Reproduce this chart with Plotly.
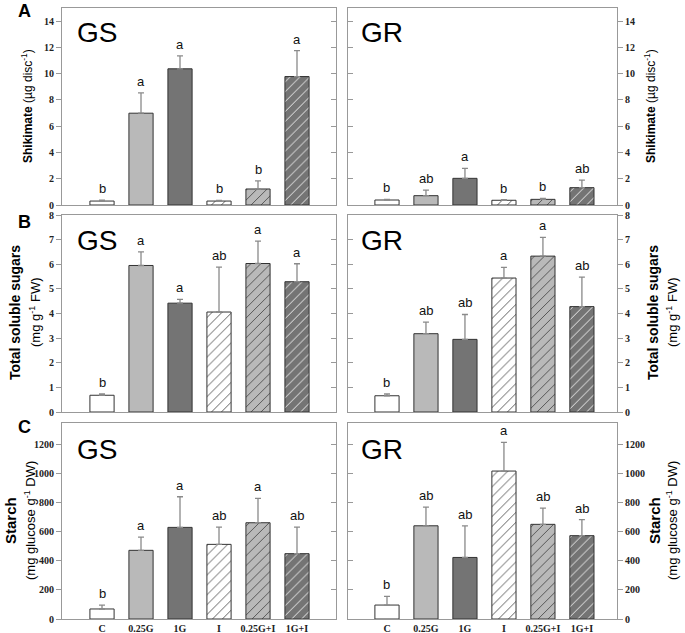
import plotly.graph_objects as go

W, H = 685, 633

categories = ["C", "0.25G", "1G", "I", "0.25G+I", "1G+I"]

shik_GS = [0.30, 6.99, 10.37, 0.30, 1.22, 9.78]
shik_GS_err = [0.06, 1.55, 0.99, 0.05, 0.61, 1.98]
shik_GS_let = ["b", "a", "a", "b", "b", "a"]
shik_GR = [0.38, 0.71, 2.03, 0.36, 0.43, 1.32]
shik_GR_err = [0.05, 0.43, 0.76, 0.05, 0.07, 0.58]
shik_GR_let = ["b", "ab", "a", "b", "b", "ab"]

sug_GS = [0.68, 5.95, 4.42, 4.06, 6.03, 5.29]
sug_GS_err = [0.05, 0.55, 0.15, 1.82, 0.91, 0.73]
sug_GS_let = ["b", "a", "a", "ab", "a", "a"]
sug_GR = [0.66, 3.18, 2.95, 5.44, 6.33, 4.28]
sug_GR_err = [0.07, 0.47, 1.01, 0.43, 0.76, 1.20]
sug_GR_let = ["b", "ab", "ab", "a", "a", "ab"]

starch_GS = [69, 473, 631, 514, 663, 450]
starch_GS_err = [27, 91, 211, 119, 168, 183]
starch_GS_let = ["b", "a", "a", "ab", "a", "ab"]
starch_GR = [96, 642, 424, 1019, 652, 574]
starch_GR_err = [60, 129, 218, 197, 112, 110]
starch_GR_let = ["b", "ab", "ab", "a", "ab", "ab"]

bar_colors = ["#ffffff", "#b9b9b9", "#747474", "#ffffff", "#b9b9b9", "#747474"]
bar_patterns = ["", "", "", "/", "/", "/"]

def px_x(p):
    return p / W

def px_y(p):
    return 1 - p / H

col_dom = [[px_x(62), px_x(336)], [px_x(348), px_x(617)]]
col_rng = [[-1.026, 6.0], [-1.0, 5.9]]
row_dom = [[px_y(205), px_y(8)], [px_y(412), px_y(215)], [px_y(619), px_y(423)]]
row_rng = [[0, 15], [0, 8], [0, 1350]]
row_dtick = [2, 1, 200]

panels = [
    [(shik_GS, shik_GS_err, shik_GS_let), (shik_GR, shik_GR_err, shik_GR_let)],
    [(sug_GS, sug_GS_err, sug_GS_let), (sug_GR, sug_GR_err, sug_GR_let)],
    [(starch_GS, starch_GS_err, starch_GS_let), (starch_GR, starch_GR_err, starch_GR_let)],
]

fig = go.Figure()
layout = {}
annotations = []
frame = "#999999"
tickfont = dict(family="Liberation Serif", size=10, color="#222", weight="bold")

n = 0
ov = 6
for r in range(3):
    for c in range(2):
        n += 1
        vals, errs, lets = panels[r][c]
        xa = "x" if n == 1 else f"x{n}"
        ya = "y" if n == 1 else f"y{n}"
        fig.add_trace(go.Bar(
            x=categories, y=vals, xaxis=xa, yaxis=ya, width=0.62,
            marker=dict(color=bar_colors, line=dict(color="#333333", width=1),
                        pattern=dict(shape=bar_patterns, fillmode="overlay",
                                     fgcolor="#222222", fgopacity=1, size=7, solidity=0.12)),
            error_y=dict(type="data", array=errs, arrayminus=[0]*6, symmetric=False,
                         color="#8a8a8a", thickness=1.3, width=3),
            showlegend=False, hoverinfo="skip",
        ))
        side = "left" if c == 0 else "right"
        layout[f"xaxis{n}"] = dict(
            domain=col_dom[c], range=col_rng[c], anchor=ya, type="category",
            showline=True, mirror=True, linecolor=frame, linewidth=1,
            ticks="", showgrid=False, zeroline=False, automargin=False,
            showticklabels=(r == 2), tickfont=tickfont, ticklen=0,
        )
        layout[f"yaxis{n}"] = dict(
            domain=row_dom[r], range=row_rng[r], anchor=xa, side=side,
            showline=True, mirror=True, linecolor=frame, linewidth=1,
            ticks="outside", ticklen=5, tickcolor=frame, dtick=row_dtick[r],
            showgrid=False, zeroline=False, tickfont=tickfont, automargin=False,
        )
        ov += 1
        oside = "right" if c == 0 else "left"
        layout[f"yaxis{ov}"] = dict(
            overlaying=ya, anchor=xa, side=oside, range=row_rng[r], dtick=row_dtick[r],
            ticks="inside", ticklen=5, tickcolor=frame, showticklabels=False,
            showline=False, showgrid=False, zeroline=False, automargin=False,
        )
        fig.add_trace(go.Scatter(x=[categories[0]], y=[row_rng[r][0]], xaxis=xa,
                                 yaxis=f"y{ov}", mode="markers", marker=dict(opacity=0),
                                 showlegend=False, hoverinfo="skip"))
        for i, cat in enumerate(categories):
            annotations.append(dict(
                x=cat, y=vals[i] + errs[i], xref=xa, yref=ya, text=lets[i],
                showarrow=False, yanchor="bottom", yshift=2,
                font=dict(family="Arial", size=13, color="#111"),
            ))
        annotations.append(dict(
            x=px_x(97 if c == 0 else 382), y=px_y([32, 241, 449][r]),
            xref="paper", yref="paper", text="GS" if c == 0 else "GR",
            xanchor="center", yanchor="middle",
            showarrow=False, font=dict(family="Arial", size=28, color="#000"),
        ))

for lab, yy in zip(["A", "B", "C"], [11, 222, 427]):
    annotations.append(dict(x=px_x(25), y=px_y(yy), xref="paper", yref="paper",
                            text=f"<b>{lab}</b>", showarrow=False,
                            xanchor="center", yanchor="middle",
                            font=dict(family="Arial", size=18, color="#000")))

titles = [
    ("<b>Shikimate</b> (µg disc<sup>-1</sup>)", None, 12),
    ("<b>Total soluble sugars</b>", "(mg g<sup>-1</sup> FW)", 14),
    ("<b>Starch</b>", "(mg glucose g<sup>-1</sup> DW)", 15),
]
left_x = [[27], [15, 35], [10, 30]]
right_x = [[650], [653, 672], [654, 672]]
row_cent = [106, 313, 521]
for r, (t1, t2, fs) in enumerate(titles):
    lines = [t1] if t2 is None else [t1, t2]
    sizes = [fs] if t2 is None else [fs, 13]
    for xs in (left_x[r], right_x[r]):
        for k, txt in enumerate(lines):
            annotations.append(dict(
                x=px_x(xs[k]), y=px_y(row_cent[r]), xref="paper", yref="paper",
                text=txt, textangle=-90, showarrow=False,
                xanchor="center", yanchor="middle",
                font=dict(family="Arial", size=sizes[k], color="#000"),
            ))

fig.update_layout(
    template="none",
    width=W, height=H, margin=dict(l=0, r=0, t=0, b=0, autoexpand=False),
    paper_bgcolor="white", plot_bgcolor="white",
    annotations=annotations, **layout,
)

fig.write_html("out.html", config={"displayModeBar": False},
               post_script="document.body.style.margin='0';")
